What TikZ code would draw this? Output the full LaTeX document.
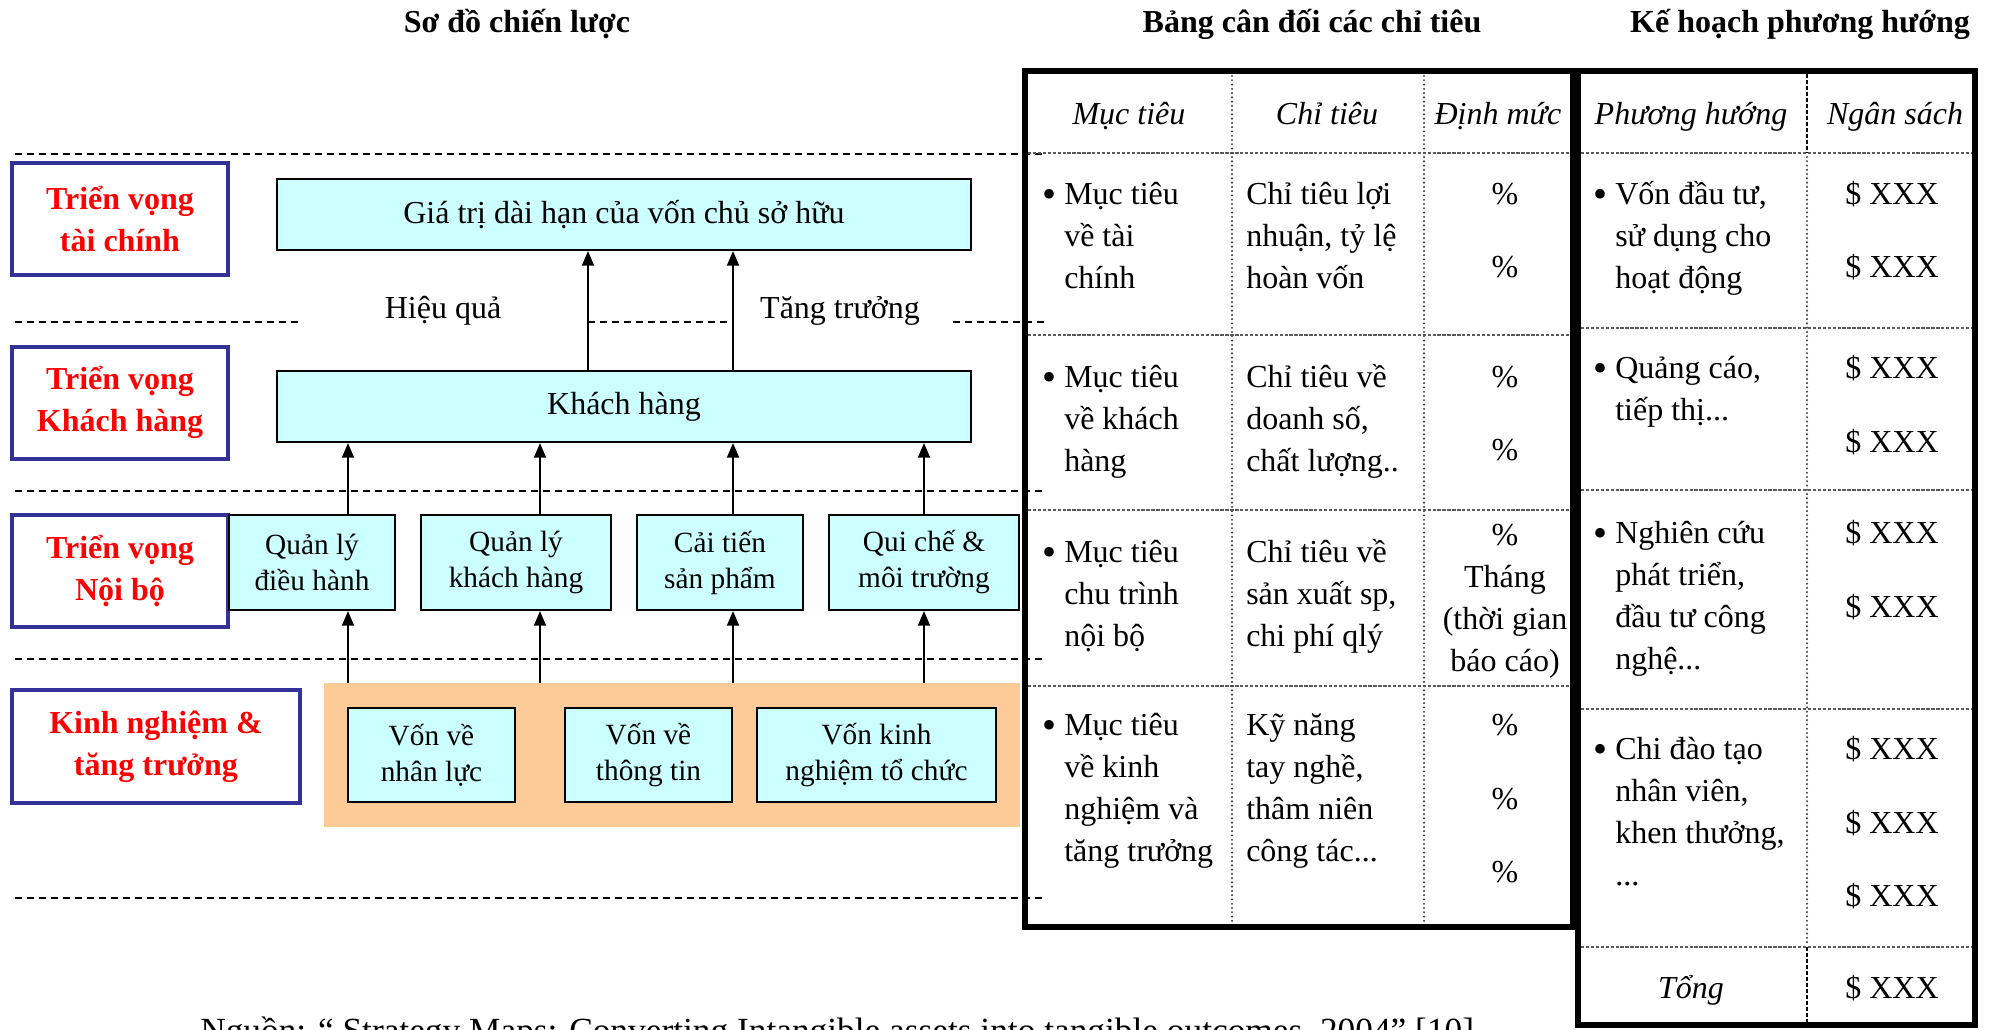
\documentclass[tikz,border=0pt]{standalone}
\usepackage{fontspec}
\setmainfont{Liberation Serif}
\usetikzlibrary{arrows.meta}

\definecolor{cyanfill}{RGB}{204,255,255}
\definecolor{orangefill}{RGB}{253,203,152}
\definecolor{pblue}{RGB}{51,51,153}
\definecolor{sepgray}{RGB}{90,90,90}

\newcommand\tbfont{\fontsize{24}{31.5}\selectfont}
\newcommand\bxfont{\fontsize{22}{27}\selectfont}
\newcommand\lbfont{\fontsize{24}{31.5}\selectfont\bfseries}

\begin{document}
\begin{tikzpicture}[x=0.75pt, y=-0.75pt,
  title/.style={font=\lbfont, anchor=base, inner sep=0},
  persp/.style={draw=pblue, line width=3pt, fill=white, text=red, font=\lbfont, align=center, inner sep=0},
  cbox/.style={draw=black, line width=1.5pt, fill=cyanfill, align=center, inner sep=0},
  % multi-line cells are anchored on the baseline of their last line
  cell/.style={font=\tbfont, inner sep=0, anchor=base west, align=left},
  ccell/.style={font=\tbfont, inner sep=0, anchor=base, align=center},
  hcell/.style={font=\tbfont\itshape, inner sep=0, anchor=base},
  bul/.style={font=\fontsize{30}{30}\selectfont, inner sep=0, anchor=base},
  level/.style={dash pattern=on 5.5pt off 3.5pt, line width=1.3pt},
  arr/.style={line width=1.3pt, -{Triangle[length=11pt,width=9pt]}},
  frame/.style={line width=4.5pt},
  rowsep/.style={sepgray, line width=1pt, dash pattern=on 2.5pt off 1.2pt},
  colsep/.style={gray!60!black, line width=1.8pt, line cap=round, dash pattern=on 0pt off 3.2pt},
  hcolsep/.style={line width=1.2pt, dash pattern=on 3pt off 1.5pt},
]
\useasboundingbox (0,0) rectangle (1991,1029);

% ---------- headings ----------
\node[title] (t1) at (517,32) {Sơ đồ chiến lược};
\node[title] (t2) at (1312,32) {Bảng cân đối các chỉ tiêu};
\node[title] (t3) at (1800,32) {Kế hoạch phương hướng};

% ---------- level dividers ----------
\draw[level] (15,154) -- (1045,154);
\draw[level] (15,322) -- (299,322);
\draw[level] (588,322) -- (733,322);
\draw[level] (953,322) -- (1045,322);
\draw[level] (15,491) -- (1045,491);
\draw[level] (15,659) -- (1045,659);
\draw[level] (15,898) -- (1045,898);

% ---------- perspectives ----------
\node[persp, minimum width=162pt, minimum height=84pt] (pf) at (120,219) {Triển vọng\\tài chính};
\node[persp, minimum width=162pt, minimum height=84pt] (pc) at (120,402.5) {Triển vọng\\Khách hàng};
\node[persp, minimum width=162pt, minimum height=84pt] (pi) at (120,570.5) {Triển vọng\\Nội bộ};
\node[persp, minimum width=216pt, minimum height=85pt] (pl) at (156,746.5) {Kinh nghiệm \&\\tăng trưởng};

% ---------- strategy map ----------
\node[cbox, font=\tbfont, minimum width=520.5pt, minimum height=53.25pt] (gt) at (624,214.5) {Giá trị dài hạn của vốn chủ sở hữu};
\node[cbox, font=\tbfont, minimum width=520.5pt, minimum height=53.25pt] (kh) at (624,406.5) {Khách hàng};

\node[cbox, font=\bxfont, minimum width=124.5pt, minimum height=71.25pt] (ql1) at (312,562.5) {Quản lý\\điều hành};
\node[cbox, font=\bxfont, minimum width=142.5pt, minimum height=71.25pt] (ql2) at (516,562.5) {Quản lý\\khách hàng};
\node[cbox, font=\bxfont, minimum width=124.5pt, minimum height=71.25pt] (ct) at (720,562.5) {Cải tiến\\sản phẩm};
\node[cbox, font=\bxfont, minimum width=142.5pt, minimum height=71.25pt] (qc) at (924,562.5) {Qui chế \&\\môi trường};

\node[fill=orangefill, minimum width=522pt, minimum height=108pt, inner sep=0] (org) at (672,755) {};
\node[cbox, font=\bxfont, minimum width=125.25pt, minimum height=70.5pt] (vn) at (431.5,755) {Vốn về\\nhân lực};
\node[cbox, font=\bxfont, minimum width=125.25pt, minimum height=70.5pt] (vt) at (648.5,755) {Vốn về\\thông tin};
\node[cbox, font=\bxfont, minimum width=179.25pt, minimum height=70.5pt] (vk) at (876.5,755) {Vốn kinh\\nghiệm tổ chức};

\node[font=\tbfont, anchor=base, inner sep=0] (hq) at (443,318) {Hiệu quả};
\node[font=\tbfont, anchor=base, inner sep=0] (tt) at (840,318) {Tăng trưởng};

% arrow columns
\coordinate (ay1) at (588,0);
\coordinate (ay2) at (733,0);
\coordinate (ax1) at (348,0);
\coordinate (ax2) at (540,0);
\coordinate (ax3) at (733,0);
\coordinate (ax4) at (924,0);

\draw[arr] (kh.north -| ay1) -- (gt.south -| ay1);
\draw[arr] (kh.north -| ay2) -- (gt.south -| ay2);

\draw[arr] (ql1.north -| ax1) -- (kh.south -| ax1);
\draw[arr] (ql2.north -| ax2) -- (kh.south -| ax2);
\draw[arr] (ct.north -| ax3) -- (kh.south -| ax3);
\draw[arr] (qc.north -| ax4) -- (kh.south -| ax4);

\draw[arr] (org.north -| ax1) -- (ql1.south -| ax1);
\draw[arr] (org.north -| ax2) -- (ql2.south -| ax2);
\draw[arr] (org.north -| ax3) -- (ct.south -| ax3);
\draw[arr] (org.north -| ax4) -- (qc.south -| ax4);

% ---------- balanced scorecard table ----------
\draw[rowsep] (1028,153) -- (1570,153);
\draw[rowsep] (1028,335) -- (1570,335);
\draw[rowsep] (1028,510) -- (1570,510);
\draw[rowsep] (1028,686) -- (1570,686);
\draw[colsep] (1232,76) -- (1232,923);
\draw[colsep] (1424,76) -- (1424,923);
\draw[frame] (1025,71) rectangle (1573,927);

\node[hcell] (h1) at (1129,124) {Mục tiêu};
\node[hcell] (h2) at (1327,124) {Chỉ tiêu};
\node[hcell] (h3) at (1498,124) {Định mức};

\node[bul] (b1) at (1049,207) {\textbullet};
\node[cell] (m1) at (1064,288) {Mục tiêu\\về tài\\chính};
\node[cell] (c1) at (1246,288) {Chỉ tiêu lợi\\nhuận, tỷ lệ\\hoàn vốn};
\node[ccell] (p1a) at (1505,204) {\%};
\node[ccell] (p1b) at (1505,277) {\%};

\node[bul] (b2) at (1049,390) {\textbullet};
\node[cell] (m2) at (1064,471) {Mục tiêu\\về khách\\hàng};
\node[cell] (c2) at (1246,471) {Chỉ tiêu về\\doanh số,\\chất lượng..};
\node[ccell] (p2a) at (1505,387) {\%};
\node[ccell] (p2b) at (1505,460) {\%};

\node[bul] (b3) at (1049,565) {\textbullet};
\node[cell] (m3) at (1064,646) {Mục tiêu\\chu trình\\nội bộ};
\node[cell] (c3) at (1246,646) {Chỉ tiêu về\\sản xuất sp,\\chi phí qlý};
\node[ccell] (p3) at (1505,671) {\%\\Tháng\\(thời gian\\báo cáo)};

\node[bul] (b4) at (1049,738) {\textbullet};
\node[cell] (m4) at (1064,861) {Mục tiêu\\về kinh\\nghiệm và\\tăng trưởng};
\node[cell] (c4) at (1246,861) {Kỹ năng\\tay nghề,\\thâm niên\\công tác...};
\node[ccell] (p4a) at (1505,735) {\%};
\node[ccell] (p4b) at (1505,809) {\%};
\node[ccell] (p4c) at (1505,882) {\%};

% ---------- direction plan table ----------
\draw[rowsep] (1581,153) -- (1972,153);
\draw[rowsep] (1581,328) -- (1972,328);
\draw[rowsep] (1581,490) -- (1972,490);
\draw[rowsep] (1581,709) -- (1972,709);
\draw[rowsep] (1581,947) -- (1972,947);
\draw[hcolsep] (1807,74) -- (1807,153);
\draw[colsep] (1807,157) -- (1807,944);
\draw[hcolsep] (1807,947) -- (1807,1022);
\draw[frame] (1578,71) rectangle (1975,1025);

\node[hcell] (h4) at (1691,124) {Phương hướng};
\node[hcell] (h5) at (1895,124) {Ngân sách};

\node[bul] (d1) at (1600,207) {\textbullet};
\node[cell] (k1) at (1615,288) {Vốn đầu tư,\\sử dụng cho\\hoạt động};
\node[ccell] (s1a) at (1892,204) {\$ XXX};
\node[ccell] (s1b) at (1892,277) {\$ XXX};

\node[bul] (d2) at (1600,381) {\textbullet};
\node[cell] (k2) at (1615,420) {Quảng cáo,\\tiếp thị...};
\node[ccell] (s2a) at (1892,378) {\$ XXX};
\node[ccell] (s2b) at (1892,452) {\$ XXX};

\node[bul] (d3) at (1600,546) {\textbullet};
\node[cell] (k3) at (1615,669) {Nghiên cứu\\phát triển,\\đầu tư công\\nghệ...};
\node[ccell] (s3a) at (1892,543) {\$ XXX};
\node[ccell] (s3b) at (1892,617) {\$ XXX};

\node[bul] (d4) at (1600,762) {\textbullet};
\node[cell] (k4) at (1615,885) {Chi đào tạo\\nhân viên,\\khen thưởng,\\...};
\node[ccell] (s4a) at (1892,759) {\$ XXX};
\node[ccell] (s4b) at (1892,833) {\$ XXX};
\node[ccell] (s4c) at (1892,906) {\$ XXX};

\node[hcell] (tot) at (1691,998) {Tổng};
\node[ccell] (s5) at (1892,998) {\$ XXX};

% ---------- source line ----------
\node[font=\fontsize{26.5}{30}\selectfont, anchor=base west, inner sep=0] (src) at (200,1042) {Nguồn: “ Strategy Maps: Converting Intangible assets into tangible outcomes, 2004” [10]};
\end{tikzpicture}
\end{document}
